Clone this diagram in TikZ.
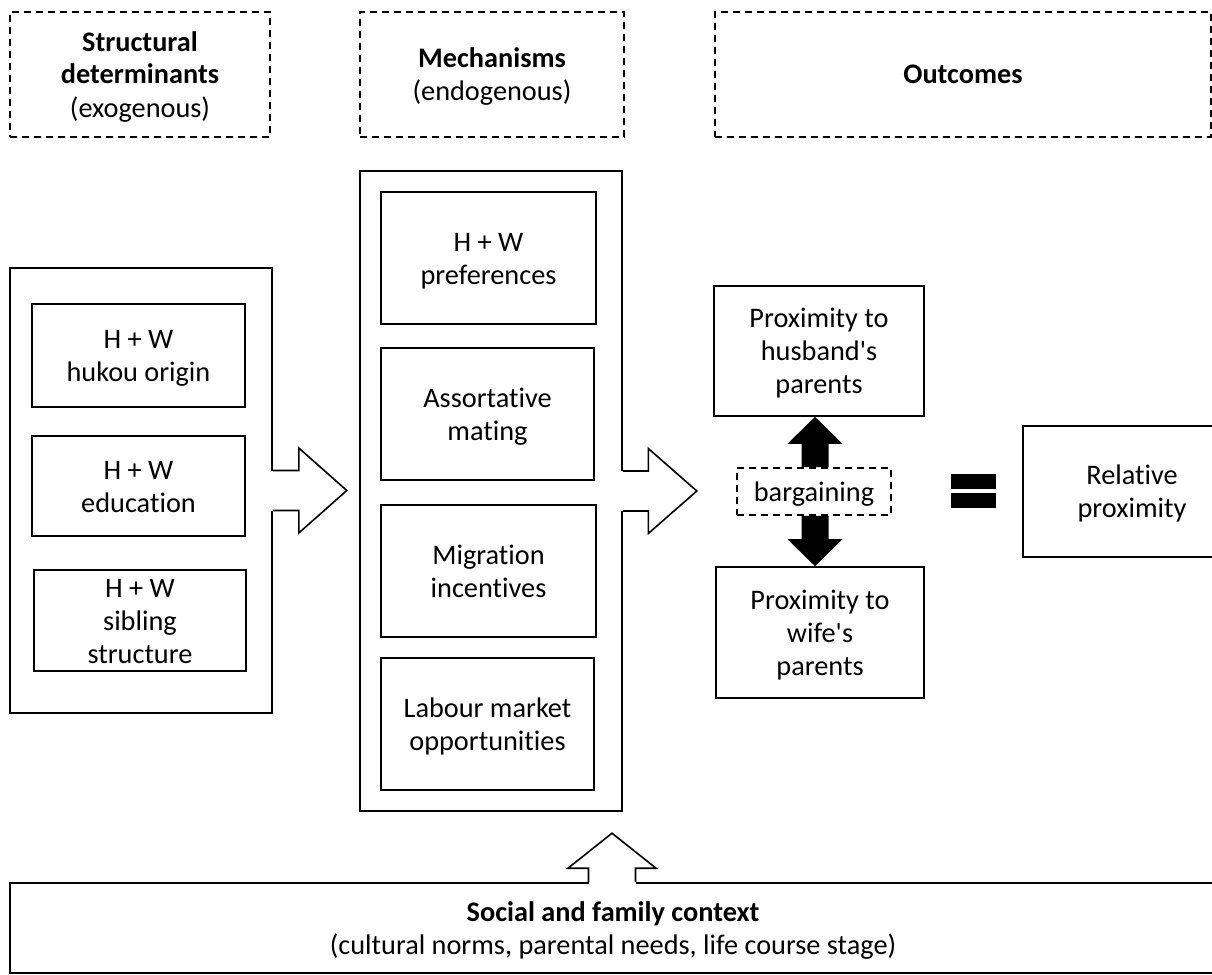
\documentclass[tikz,border=0pt]{standalone}
\usepackage{fontspec}
\setmainfont{Carlito}[Ligatures={NoCommon}]
\usetikzlibrary{calc}
\newcommand{\lnstrut}{\rule[-7pt]{0pt}{33pt}}
\setlength{\lineskiplimit}{-8pt}
\tikzset{
  box/.style={draw, line width=1.6pt, inner sep=0pt, align=center, fill=white},
  dbox/.style={box, dash pattern=on 7pt off 5pt},
  blockarrow/.style={draw, line width=1.6pt, fill=white, line join=miter},
  eqbar/.style={fill=black, inner sep=0pt, minimum width=45pt, minimum height=15pt},
}
\begin{document}
\begin{tikzpicture}[x=1pt,y=-1pt, font=\fontsize{28.3}{33}\selectfont]
\useasboundingbox (0,0) rectangle (1212,974);
\clip (0,0) rectangle (1212,974);

% headers
\node[dbox, minimum width=260pt, minimum height=125pt] (h1) at (140,74.5) {\lnstrut\textbf{Structural}\\\lnstrut\textbf{determinants}\\\lnstrut(exogenous)};
\node[dbox, minimum width=264pt, minimum height=125pt] (h2) at (492,74.5) {\lnstrut\textbf{Mechanisms}\\\lnstrut(endogenous)};
\node[dbox, minimum width=496pt, minimum height=125pt] (h3) at (963,74.5) {\lnstrut\textbf{Outcomes}};

% left group
\node[box, minimum width=262pt, minimum height=445pt] (lbig) at (141,490.5) {};
\node[box, minimum width=213pt, minimum height=103pt] (hukou) at (138.5,355.5) {\lnstrut H + W\\\lnstrut hukou origin};
\node[box, minimum width=213pt, minimum height=100pt] (edu) at (138.5,486) {\lnstrut H + W\\\lnstrut education};
\node[box, minimum width=212pt, minimum height=101pt] (sib) at (140,620.5) {\lnstrut H + W\\\lnstrut sibling\\\lnstrut structure};

% middle group
\node[box, minimum width=262pt, minimum height=640pt] (mbig) at (491,491) {};
\node[box, minimum width=215pt, minimum height=132pt] (pref) at (488.5,258) {\lnstrut H + W\\\lnstrut preferences};
\node[box, minimum width=213pt, minimum height=132pt] (assort) at (487.5,414) {\lnstrut Assortative\\\lnstrut mating};
\node[box, minimum width=215pt, minimum height=132pt] (migr) at (488.5,571) {\lnstrut Migration\\\lnstrut incentives};
\node[box, minimum width=213pt, minimum height=132pt] (labour) at (487.5,724) {\lnstrut Labour market\\\lnstrut opportunities};

% outcomes
\node[box, minimum width=210pt, minimum height=130pt] (husband) at (819,351) {\lnstrut Proximity to\\\lnstrut husband\textquotesingle s\\\lnstrut parents};
\node[dbox, minimum width=154pt, minimum height=47pt] (bargain) at (814,491.5) {\lnstrut bargaining};
\node[box, minimum width=208pt, minimum height=131pt] (wife) at (820,632.5) {\lnstrut Proximity to\\\lnstrut wife\textquotesingle s\\\lnstrut parents};
\node[eqbar] (eq1) at (973.5,481.5) {};
\node[eqbar] (eq2) at (973.5,500.5) {};
\node[box, minimum width=218pt, minimum height=131pt] (rel) at (1132,491.5) {\lnstrut Relative\\\lnstrut proximity};

% context
\node[box, minimum width=1206pt, minimum height=90pt] (ctx) at (613,928) {\lnstrut\textbf{Social and family context}\\\lnstrut(cultural norms, parental needs, life course stage)};

% block arrow 1
\coordinate (a1) at (lbig.east);
\fill[white] ($(a1)+(-2pt,20pt)$) rectangle ($(a1)+(2pt,-20pt)$);
\draw[blockarrow] (a1) ++(0pt,20pt) -- ++(26pt,0pt) -- ++(0pt,22.5pt) -- ++(48pt,-42.5pt) -- ++(-48pt,-42.5pt) -- ++(0pt,22.5pt) -- ++(-26pt,0pt);

% block arrow 2
\coordinate (a2) at (mbig.east);
\fill[white] ($(a2)+(-2pt,20pt)$) rectangle ($(a2)+(2pt,-20pt)$);
\draw[blockarrow] (a2) ++(0pt,20pt) -- ++(25.5pt,0pt) -- ++(0pt,22.5pt) -- ++(48.5pt,-42.5pt) -- ++(-48.5pt,-42.5pt) -- ++(0pt,22.5pt) -- ++(-25.5pt,0pt);

% block arrow 3 (up from context)
\coordinate (a3) at ($(ctx.north)+(-1pt,0pt)$);
\fill[white] ($(a3)+(-23.5pt,-2pt)$) rectangle ($(a3)+(23.5pt,2pt)$);
\draw[blockarrow] (a3) ++(-23.5pt,0pt) -- ++(0pt,14pt) -- ++(-20.5pt,0pt) -- ++(44pt,35pt) -- ++(44pt,-35pt) -- ++(-20.5pt,0pt) -- ++(0pt,-14pt);

% black arrows
\coordinate (ut) at ($(bargain.north |- husband.south)+(1pt,0pt)$);
\coordinate (ub) at ($(bargain.north)+(1pt,0pt)$);
\fill ($(ub)+(-13.5pt,0pt)$) -- ($(ut)+(-13.5pt,-27pt)$) -- ($(ut)+(-27.5pt,-27pt)$) -- (ut) -- ($(ut)+(27.5pt,-27pt)$) -- ($(ut)+(13.5pt,-27pt)$) -- ($(ub)+(13.5pt,0pt)$) -- cycle;
\coordinate (dt) at ($(bargain.south |- wife.north)+(1pt,0pt)$);
\coordinate (db) at ($(bargain.south)+(1pt,0pt)$);
\fill ($(db)+(-13.5pt,0pt)$) -- ($(dt)+(-13.5pt,27pt)$) -- ($(dt)+(-27.5pt,27pt)$) -- (dt) -- ($(dt)+(27.5pt,27pt)$) -- ($(dt)+(13.5pt,27pt)$) -- ($(db)+(13.5pt,0pt)$) -- cycle;
\end{tikzpicture}
\end{document}
